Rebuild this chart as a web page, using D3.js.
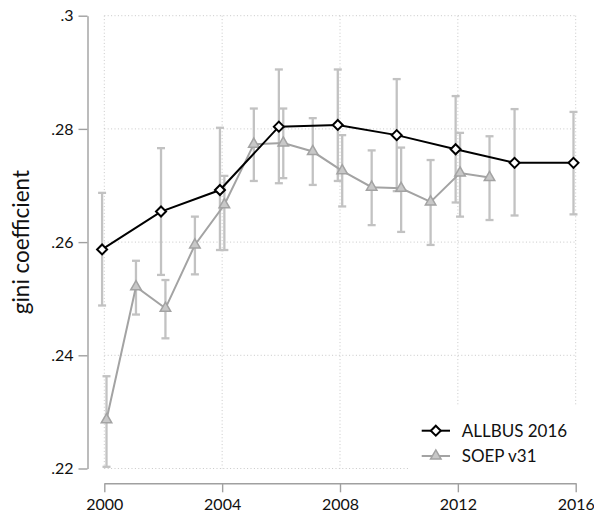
<!DOCTYPE html>
<html>
<head>
<meta charset="utf-8">
<script src="https://cdn.jsdelivr.net/npm/d3@7"></script>
<style>
  html, body { margin: 0; padding: 0; background: #fff; }
  svg { display: block; font-family: Lato, "Open Sans", sans-serif; }
</style>
</head>
<body>
<svg id="chart" width="594" height="519"></svg>
<script>
// ALLBUS 2016 (every second year)
const allbusYears = [2000, 2002, 2004, 2006, 2008, 2010, 2012, 2014, 2016];
const allbusGini  = [0.2587, 0.2654, 0.2692, 0.2804, 0.2807, 0.2789, 0.2764, 0.2740, 0.2740];
const allbusLow   = [0.2488, 0.2542, 0.2586, 0.2704, 0.2708, 0.2690, 0.2670, 0.2647, 0.2649];
const allbusHigh  = [0.2687, 0.2766, 0.2802, 0.2905, 0.2905, 0.2888, 0.2858, 0.2835, 0.2830];

// SOEP v31 (yearly)
const soepYears = [2000, 2001, 2002, 2003, 2004, 2005, 2006, 2007, 2008, 2009, 2010, 2011, 2012, 2013];
const soepGini  = [0.2286, 0.2521, 0.2483, 0.2595, 0.2666, 0.2773, 0.2775, 0.2760, 0.2726, 0.2697, 0.2695, 0.2671, 0.2722, 0.2714];
const soepLow   = [0.2203, 0.2472, 0.2430, 0.2543, 0.2586, 0.2708, 0.2713, 0.2701, 0.2663, 0.2630, 0.2618, 0.2595, 0.2645, 0.2639];
const soepHigh  = [0.2363, 0.2567, 0.2533, 0.2645, 0.2717, 0.2836, 0.2836, 0.2819, 0.2789, 0.2762, 0.2767, 0.2745, 0.2793, 0.2787];

const xTicks = [2000, 2004, 2008, 2012, 2016];
const yTicks = [0.22, 0.24, 0.26, 0.28, 0.30];
const yTickLabels = [".22", ".24", ".26", ".28", ".3"];
const seriesNames = ["ALLBUS 2016", "SOEP v31"];

const svg = d3.select("#chart");

const x = d3.scaleLinear().domain([2000, 2016]).range([104.3, 575.7]);
const y = d3.scaleLinear().domain([0.22, 0.30]).range([468.5, 15.7]);

// small horizontal dodge so the two series' error bars don't overlap
const dodge = 0.075;

const gridColor = "#c8c8c8";
const barColor = "#c2c2c2";
const soepColor = "#a3a3a3";
const axisColor = "#a0a0a0";

// dotted grid
const grid = svg.append("g");
grid.selectAll("line.h").data(yTicks).join("line")
  .attr("x1", x(2000)).attr("x2", x(2016))
  .attr("y1", d => y(d)).attr("y2", d => y(d))
  .attr("stroke", gridColor).attr("stroke-width", 1).attr("stroke-dasharray", "1,2.4");
grid.selectAll("line.v").data(xTicks).join("line")
  .attr("x1", d => x(d)).attr("x2", d => x(d))
  .attr("y1", y(0.30)).attr("y2", y(0.22))
  .attr("stroke", gridColor).attr("stroke-width", 1).attr("stroke-dasharray", "1,2.4");

// axes
const yAxis = svg.append("g").attr("transform", "translate(87.5,0)")
  .call(d3.axisLeft(y).tickValues(yTicks).tickSize(9).tickSizeOuter(0).tickPadding(5)
    .tickFormat((d, i) => yTickLabels[i]));
const xAxis = svg.append("g").attr("transform", "translate(0,483.3)")
  .call(d3.axisBottom(x).tickValues(xTicks).tickSize(9).tickSizeOuter(0).tickPadding(6)
    .tickFormat(d3.format("d")));
[yAxis, xAxis].forEach(g => {
  g.select(".domain").attr("stroke", axisColor).attr("stroke-width", 1.4);
  g.selectAll(".tick line").attr("stroke", axisColor).attr("stroke-width", 1.4);
  g.selectAll(".tick text").attr("fill", "#111").attr("font-size", 16)
    .attr("font-family", "Lato, 'Open Sans', sans-serif");
});

// y axis title
svg.append("text")
  .attr("transform", `translate(28.5,${(y(0.22) + y(0.30)) / 2}) rotate(-90)`)
  .attr("text-anchor", "middle")
  .attr("font-size", 22.5)
  .attr("fill", "#111")
  .text("gini coefficient");

// error bars
function errorBars(years, lo, hi, shift) {
  const g = svg.append("g").attr("stroke", barColor).attr("stroke-width", 2.3).attr("fill", "none");
  const cap = 4;
  years.forEach((yr, i) => {
    const cx = x(yr + shift);
    g.append("line").attr("x1", cx).attr("x2", cx).attr("y1", y(lo[i])).attr("y2", y(hi[i]));
    g.append("line").attr("x1", cx - cap).attr("x2", cx + cap).attr("y1", y(lo[i])).attr("y2", y(lo[i]));
    g.append("line").attr("x1", cx - cap).attr("x2", cx + cap).attr("y1", y(hi[i])).attr("y2", y(hi[i]));
  });
}
errorBars(allbusYears, allbusLow, allbusHigh, -dodge);
errorBars(soepYears, soepLow, soepHigh, dodge);

const diamond = "M0,-5L5,0L0,5L-5,0Z";
const triangle = d3.symbol().type(d3.symbolTriangle).size(48)();

// SOEP line + triangles
const soepPts = soepYears.map((yr, i) => [x(yr + dodge), y(soepGini[i])]);
svg.append("path").attr("d", d3.line()(soepPts))
  .attr("fill", "none").attr("stroke", soepColor).attr("stroke-width", 2);
svg.append("g").selectAll("path").data(soepPts).join("path")
  .attr("d", triangle).attr("transform", d => `translate(${d[0]},${d[1]})`)
  .attr("fill", "#c8c8c8").attr("stroke", soepColor).attr("stroke-width", 1.5);

// ALLBUS line + diamonds
const allbusPts = allbusYears.map((yr, i) => [x(yr - dodge), y(allbusGini[i])]);
svg.append("path").attr("d", d3.line()(allbusPts))
  .attr("fill", "none").attr("stroke", "#000").attr("stroke-width", 2);
svg.append("g").selectAll("path").data(allbusPts).join("path")
  .attr("d", diamond).attr("transform", d => `translate(${d[0]},${d[1]})`)
  .attr("fill", "#fff").attr("stroke", "#000").attr("stroke-width", 2);

// legend
const legend = svg.append("g");
legend.append("rect").attr("x", 410).attr("y", 406).attr("width", 172).attr("height", 68).attr("fill", "#fff");
const rows = [
  { name: seriesNames[0], color: "#000", shape: diamond, fill: "#fff", sw: 2, cy: 430.7 },
  { name: seriesNames[1], color: soepColor, shape: triangle, fill: "#c8c8c8", sw: 1.5, cy: 456 }
];
rows.forEach(r => {
  legend.append("line").attr("x1", 421.7).attr("x2", 450).attr("y1", r.cy).attr("y2", r.cy)
    .attr("stroke", r.color).attr("stroke-width", 2);
  legend.append("path").attr("d", r.shape).attr("transform", `translate(435.8,${r.cy})`)
    .attr("fill", r.fill).attr("stroke", r.color).attr("stroke-width", r.sw);
  legend.append("text").attr("x", 461.7).attr("y", r.cy).attr("dy", "0.35em")
    .attr("font-size", 17).attr("fill", "#111").text(r.name);
});
</script>
</body>
</html>
